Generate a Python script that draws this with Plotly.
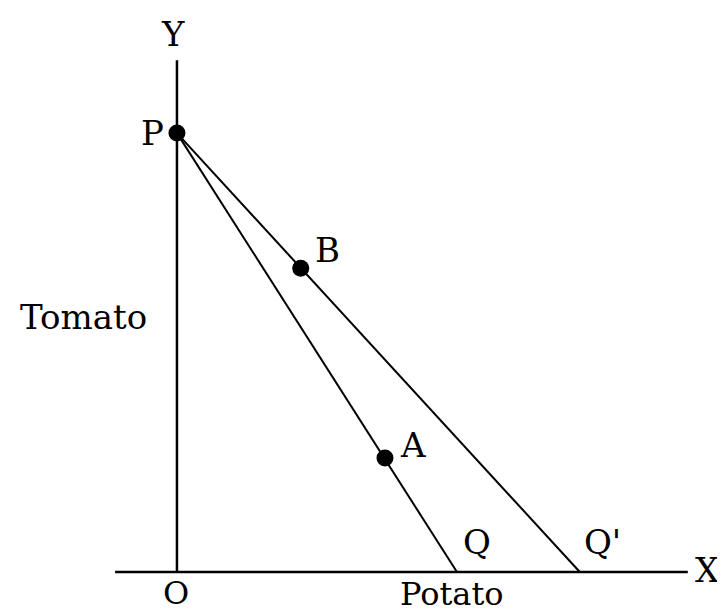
import plotly.graph_objects as go

# Points of the diagram (O is the origin)
point_names = ["P", "Q", "Q'"]
point_x = [0.0, 6.38, 9.18]
point_y = [10.0, 0.0, 0.0]

# Marked bundles on the budget lines
dot_names = ["P", "B", "A"]
dot_x = [0.0, 2.82, 4.74]
dot_y = [10.0, 6.92, 2.6]

# Axis extents
x_axis_x = [-1.41, 11.64]
y_axis_y = [0.0, 11.66]

# Text labels
label_text = ["Y", "P", "B", "A", "Q", "Q'", "X", "O", "Potato", "Tomato"]
label_x = [-0.09, -0.55, 3.42, 5.38, 6.83, 9.70, 12.10, -0.02, 6.26, -2.14]
label_y = [12.26, 10.0, 7.33, 2.89, 0.68, 0.68, 0.05, -0.47, -0.50, 5.81]

FONT = "DejaVu Serif"

fig = go.Figure()

# Axes
fig.add_trace(go.Scatter(x=x_axis_x, y=[0, 0], mode="lines",
						 line=dict(color="black", width=2.5), hoverinfo="skip"))
fig.add_trace(go.Scatter(x=[0, 0], y=y_axis_y, mode="lines",
						 line=dict(color="black", width=2.5), hoverinfo="skip"))

# Budget lines PQ and PQ'
for i in (1, 2):
	fig.add_trace(go.Scatter(x=[point_x[0], point_x[i]], y=[point_y[0], point_y[i]], mode="lines",
							 line=dict(color="black", width=2), name=f"P{point_names[i]}"))

# Dots
fig.add_trace(go.Scatter(x=dot_x, y=dot_y, mode="markers", text=dot_names,
						 marker=dict(color="black", size=17)))

for t, x, y in zip(label_text, label_x, label_y):
	fig.add_annotation(x=x, y=y, xref="x", yref="y", text=t, showarrow=False,
					   font=dict(family=FONT, size=34 if t not in ("O", "Potato") else 32, color="black"))

fig.update_layout(width=725, height=613, margin=dict(l=0, r=0, t=0, b=0),
				  paper_bgcolor="white", plot_bgcolor="white", showlegend=False)
# ranges shifted to make up for the 8px page margin
fig.update_xaxes(range=[-3.85, 12.67], visible=False)
fig.update_yaxes(range=[-1.116, 12.85], visible=False)

fig.write_html("out.html")
